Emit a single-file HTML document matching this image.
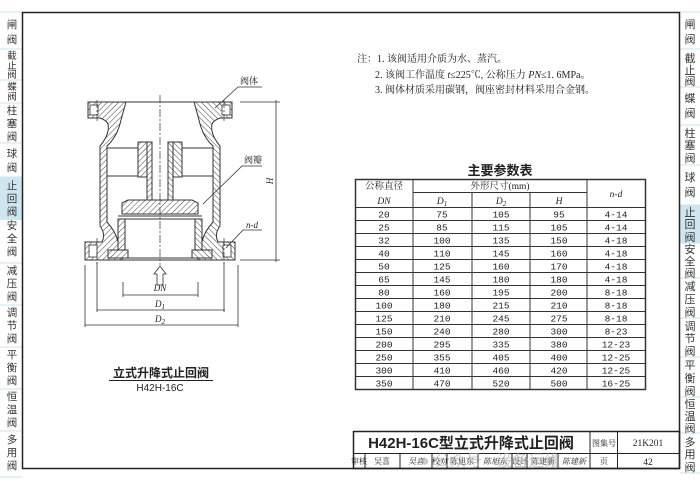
<!DOCTYPE html>
<html><head><meta charset="utf-8"><style>
html,body{margin:0;padding:0;background:#fff;}
svg{display:block;font-family:"Liberation Serif","Noto Serif CJK SC","Noto Sans CJK SC",serif;}
.s{font-family:"Liberation Sans","Noto Sans CJK SC",sans-serif;}
</style></head><body>
<svg width="700" height="487" viewBox="0 0 700 487" xmlns="http://www.w3.org/2000/svg">
<defs>
<pattern id="h" width="4" height="4" patternUnits="userSpaceOnUse" patternTransform="rotate(45)">
<rect width="4" height="4" fill="#fff"/><line x1="0" y1="0" x2="0" y2="4" stroke="#444" stroke-width="1"/>
</pattern>
</defs>
<rect width="700" height="487" fill="#fff"/>
<rect x="680" y="205" width="20" height="38" fill="#cfe6f0"/>
<rect x="0" y="177" width="22" height="43" fill="#cfe6f0"/>
<g stroke="#cde3ec" stroke-width="1">
<line x1="680" y1="12" x2="700" y2="12"/><line x1="680" y1="49" x2="700" y2="49"/><line x1="680" y1="87" x2="700" y2="87"/><line x1="680" y1="125" x2="700" y2="125"/><line x1="680" y1="165" x2="700" y2="165"/><line x1="680" y1="205" x2="700" y2="205"/><line x1="680" y1="243" x2="700" y2="243"/><line x1="680" y1="278" x2="700" y2="278"/><line x1="680" y1="318" x2="700" y2="318"/><line x1="680" y1="357" x2="700" y2="357"/><line x1="680" y1="397" x2="700" y2="397"/><line x1="680" y1="433" x2="700" y2="433"/><line x1="680" y1="473" x2="700" y2="473"/>
<line x1="0" y1="12" x2="22" y2="12"/><line x1="0" y1="49" x2="22" y2="49"/><line x1="0" y1="80" x2="22" y2="80"/><line x1="0" y1="103" x2="22" y2="103"/><line x1="0" y1="143" x2="22" y2="143"/><line x1="0" y1="177" x2="22" y2="177"/><line x1="0" y1="263" x2="22" y2="263"/><line x1="0" y1="305" x2="22" y2="305"/><line x1="0" y1="347" x2="22" y2="347"/><line x1="0" y1="389" x2="22" y2="389"/><line x1="0" y1="431" x2="22" y2="431"/><line x1="0" y1="477" x2="22" y2="477"/>
</g>
<g class="s" font-size="11" fill="#333" text-anchor="middle">
<text x="690" y="28">闸</text><text x="690" y="43">阀</text>
<text x="690" y="62">截</text><text x="690" y="74">止</text><text x="690" y="85">阀</text>
<text x="690" y="102">蝶</text><text x="690" y="117">阀</text>
<text x="690" y="137">柱</text><text x="690" y="149">塞</text><text x="690" y="162">阀</text>
<text x="690" y="181">球</text><text x="690" y="196">阀</text>
<text x="690" y="216">止</text><text x="690" y="228">回</text><text x="690" y="241">阀</text>
<text x="690" y="253">安</text><text x="690" y="265">全</text><text x="690" y="277">阀</text>
<text x="690" y="290">减</text><text x="690" y="303">压</text><text x="690" y="316">阀</text>
<text x="690" y="330">调</text><text x="690" y="342">节</text><text x="690" y="355">阀</text>
<text x="690" y="369">平</text><text x="690" y="382">衡</text><text x="690" y="395">阀</text>
<text x="690" y="408">恒</text><text x="690" y="420">温</text><text x="690" y="432">阀</text>
<text x="690" y="446">多</text><text x="690" y="458">用</text><text x="690" y="471">阀</text>
</g>
<g class="s" font-size="10.5" fill="#333" text-anchor="middle">
<text x="12" y="28">闸</text><text x="12" y="43">阀</text>
<text x="12" y="59" font-size="9.5">截</text><text x="12" y="69" font-size="9.5">止</text><text x="12" y="78" font-size="9.5">阀</text>
<text x="12" y="90" font-size="9.5">蝶</text><text x="12" y="100" font-size="9.5">阀</text>
<text x="12" y="114">柱</text><text x="12" y="127">塞</text><text x="12" y="140">阀</text>
<text x="12" y="157">球</text><text x="12" y="171">阀</text>
<text x="12" y="189">止</text><text x="12" y="202">回</text><text x="12" y="215">阀</text>
<text x="12" y="229">安</text><text x="12" y="242">全</text><text x="12" y="255">阀</text>
<text x="12" y="274">减</text><text x="12" y="287">压</text><text x="12" y="300">阀</text>
<text x="12" y="316">调</text><text x="12" y="329">节</text><text x="12" y="342">阀</text>
<text x="12" y="358">平</text><text x="12" y="371">衡</text><text x="12" y="384">阀</text>
<text x="12" y="400">恒</text><text x="12" y="413">温</text><text x="12" y="426">阀</text>
<text x="12" y="443">多</text><text x="12" y="456">用</text><text x="12" y="469">阀</text>
</g>
<rect x="22.5" y="12.5" width="657" height="456" fill="none" stroke="#222" stroke-width="1.5"/>
<g font-size="10" fill="#222">
<text x="357" y="62">注：1. 该阀适用介质为水、蒸汽。</text>
<text x="375" y="78">2. 该阀工作温度 <tspan font-style="italic">t</tspan>≤225℃, 公称压力 <tspan font-style="italic">PN</tspan>≤1. 6MPa。</text>
<text x="375" y="93">3. 阀体材质采用碳钢，阀座密封材料采用合金钢。</text>
</g>
<text x="500" y="175" class="s" font-size="13" font-weight="bold" text-anchor="middle" fill="#222">主要参数表</text>
<g stroke="#333" stroke-width="1" fill="none">
<rect x="355.5" y="179.5" width="290" height="210" stroke-width="1.5"/>
<line x1="413" y1="179" x2="413" y2="389"/>
<line x1="587" y1="179" x2="587" y2="389"/>
<line x1="472" y1="192" x2="472" y2="389"/>
<line x1="530" y1="192" x2="530" y2="389"/>
<line x1="413" y1="192.5" x2="587" y2="192.5"/>
<line x1="355" y1="207.5" x2="645" y2="207.5"/>
<line x1="355" y1="220.5" x2="645" y2="220.5"/>
<line x1="355" y1="233.5" x2="645" y2="233.5"/>
<line x1="355" y1="246.5" x2="645" y2="246.5"/>
<line x1="355" y1="259.5" x2="645" y2="259.5"/>
<line x1="355" y1="272.5" x2="645" y2="272.5"/>
<line x1="355" y1="285.5" x2="645" y2="285.5"/>
<line x1="355" y1="298.5" x2="645" y2="298.5"/>
<line x1="355" y1="311.5" x2="645" y2="311.5"/>
<line x1="355" y1="324.5" x2="645" y2="324.5"/>
<line x1="355" y1="337.5" x2="645" y2="337.5"/>
<line x1="355" y1="350.5" x2="645" y2="350.5"/>
<line x1="355" y1="363.5" x2="645" y2="363.5"/>
<line x1="355" y1="376.5" x2="645" y2="376.5"/>
</g>
<g font-size="9.5" fill="#222" text-anchor="middle">
<text x="384" y="189">公称直径</text>
<text x="384" y="204" font-style="italic">DN</text>
<text x="500" y="189">外形尺寸(mm)</text>
<text x="442" y="204" font-style="italic">D<tspan font-size="7" dy="2">1</tspan></text>
<text x="501" y="204" font-style="italic">D<tspan font-size="7" dy="2">2</tspan></text>
<text x="559" y="204" font-style="italic">H</text>
<text x="616" y="197" font-style="italic">n-d</text>
</g>
<g font-size="9.5" fill="#222" text-anchor="middle" font-family="Liberation Mono, monospace">
<g transform="translate(0,217.5)"><text x="384">20</text><text x="442">75</text><text x="501">105</text><text x="559">95</text><text x="616">4-14</text></g>
<g transform="translate(0,230.5)"><text x="384">25</text><text x="442">85</text><text x="501">115</text><text x="559">105</text><text x="616">4-14</text></g>
<g transform="translate(0,243.5)"><text x="384">32</text><text x="442">100</text><text x="501">135</text><text x="559">150</text><text x="616">4-18</text></g>
<g transform="translate(0,256.5)"><text x="384">40</text><text x="442">110</text><text x="501">145</text><text x="559">160</text><text x="616">4-18</text></g>
<g transform="translate(0,269.5)"><text x="384">50</text><text x="442">125</text><text x="501">160</text><text x="559">170</text><text x="616">4-18</text></g>
<g transform="translate(0,282.5)"><text x="384">65</text><text x="442">145</text><text x="501">180</text><text x="559">180</text><text x="616">4-18</text></g>
<g transform="translate(0,295.5)"><text x="384">80</text><text x="442">160</text><text x="501">195</text><text x="559">200</text><text x="616">8-18</text></g>
<g transform="translate(0,308.5)"><text x="384">100</text><text x="442">180</text><text x="501">215</text><text x="559">210</text><text x="616">8-18</text></g>
<g transform="translate(0,321.5)"><text x="384">125</text><text x="442">210</text><text x="501">245</text><text x="559">275</text><text x="616">8-18</text></g>
<g transform="translate(0,334.5)"><text x="384">150</text><text x="442">240</text><text x="501">280</text><text x="559">300</text><text x="616">8-23</text></g>
<g transform="translate(0,347.5)"><text x="384">200</text><text x="442">295</text><text x="501">335</text><text x="559">380</text><text x="616">12-23</text></g>
<g transform="translate(0,360.5)"><text x="384">250</text><text x="442">355</text><text x="501">405</text><text x="559">400</text><text x="616">12-25</text></g>
<g transform="translate(0,373.5)"><text x="384">300</text><text x="442">410</text><text x="501">460</text><text x="559">420</text><text x="616">12-25</text></g>
<g transform="translate(0,386.5)"><text x="384">350</text><text x="442">470</text><text x="501">520</text><text x="559">500</text><text x="616">16-25</text></g>
</g>
<g stroke="#222" fill="none">
<rect x="353.5" y="431.5" width="326" height="37" stroke-width="1.5"/>
<line x1="353" y1="453.5" x2="680" y2="453.5"/>
<line x1="590" y1="431" x2="590" y2="468"/>
<line x1="617.5" y1="431" x2="617.5" y2="468"/>
<line x1="365" y1="453" x2="365" y2="468"/><line x1="400" y1="453" x2="400" y2="468"/><line x1="432" y1="453" x2="432" y2="468"/><line x1="447" y1="453" x2="447" y2="468"/><line x1="478" y1="453" x2="478" y2="468"/><line x1="512" y1="453" x2="512" y2="468"/><line x1="527" y1="453" x2="527" y2="468"/><line x1="558" y1="453" x2="558" y2="468"/>
</g>
<text x="471" y="448" class="s" font-size="15" font-weight="bold" text-anchor="middle" fill="#222">H42H-16C型立式升降式止回阀</text>
<g font-size="8" fill="#222" text-anchor="middle">
<text x="604" y="446">图集号</text>
<text x="648" y="446" font-size="9.5">21K201</text>
<text x="359" y="464">审核</text><text x="382" y="464">吴喜</text><text x="416" y="464" font-style="italic">吴喜</text>
<text x="440" y="464">校对</text><text x="462" y="464">陈旭东</text><text x="495" y="464" font-style="italic">陈旭东</text>
<text x="520" y="464">设计</text><text x="543" y="464">陈建新</text><text x="574" y="464" font-style="italic">陈建新</text>
<text x="604" y="464">页</text><text x="648" y="465" font-size="9.5">42</text>
</g>
<text x="420" y="466" class="s" font-size="16" fill="#aaa" opacity="0.6">● 公众号 · 设备运维</text>
<g stroke="#333" stroke-width="1">
<g id="half">
<path d="M88,102 H126 Q122,116 120,124 Q116,138 107,146 V222 Q116,232 118,242 H122 V260 H85 V242 H102 Q106,234 100,226 V146 Q110,134 108,124 Q106,120 100,118 H88 Z" fill="url(#h)"/>
<rect x="118" y="219" width="7" height="31" fill="url(#h)"/>
<rect x="108" y="250" width="20" height="8" fill="url(#h)"/>
<rect x="138" y="142" width="9" height="35" fill="url(#h)"/>
<rect x="147" y="142" width="5" height="60" fill="url(#h)"/>
<line x1="107" y1="148" x2="138" y2="148"/>
<line x1="107" y1="176" x2="138" y2="176"/>
<rect x="90" y="105" width="8" height="10" fill="#fff" stroke-width="0.8"/>
<rect x="89" y="245" width="8" height="12" fill="#fff" stroke-width="0.8"/>
</g>
<use href="#half" transform="translate(320,0) scale(-1,1)"/>
<line x1="126" y1="102" x2="194" y2="102"/>
<line x1="122" y1="260" x2="198" y2="260"/>
<path d="M122 203 L128 200 H192 L198 203 V214 H122 Z" fill="url(#h)"/>
<line x1="118" y1="216" x2="202" y2="216"/>
<line x1="118" y1="219" x2="202" y2="219"/>
<line x1="128" y1="258" x2="192" y2="258"/>
</g>
<g stroke="#333" stroke-width="0.7" stroke-dasharray="8,2,2,2" fill="none">
<line x1="160" y1="95" x2="160" y2="265"/>
<line x1="97" y1="100" x2="97" y2="121"/><line x1="224" y1="100" x2="224" y2="121"/>
<line x1="97" y1="238" x2="97" y2="265"/><line x1="224" y1="238" x2="224" y2="265"/>
</g>
<g stroke="#333" stroke-width="0.8" fill="none">
<path d="M157 285 V274 H154 L160 266 L166 274 H163 V285 Z"/>
<line x1="97" y1="262" x2="97" y2="312"/><line x1="224" y1="262" x2="224" y2="312"/>
<line x1="123" y1="282" x2="123" y2="297"/><line x1="198" y1="282" x2="198" y2="297"/>
<line x1="85" y1="265" x2="85" y2="327"/><line x1="238" y1="265" x2="238" y2="327"/>
<line x1="123" y1="295" x2="198" y2="295"/>
<line x1="97" y1="310" x2="225" y2="310"/>
<line x1="85" y1="325" x2="238" y2="325"/>
<line x1="240" y1="102" x2="280" y2="102"/><line x1="240" y1="260" x2="280" y2="260"/>
<line x1="276" y1="100" x2="276" y2="262"/>
<polyline points="215,108 238,87 262,87"/>
<polyline points="203,204 242,166 262,166"/>
<polyline points="226,248 243,230 262,230"/>
</g>
<g font-size="9" fill="#222" font-style="italic" text-anchor="middle">
<text x="160" y="291">DN</text>
<text x="160" y="307">D<tspan font-size="7" dy="2">1</tspan></text>
<text x="160" y="322">D<tspan font-size="7" dy="2">2</tspan></text>
<text x="270" y="184" transform="rotate(-90 270 181)">H</text>
<text x="252" y="228">n-d</text>
</g>
<g font-size="9" fill="#222">
<text x="240" y="84">阀体</text>
<text x="244" y="163">阀瓣</text>
</g>
<text x="161" y="377" class="s" font-size="12" font-weight="bold" text-anchor="middle" fill="#222">立式升降式止回阀</text>
<line x1="109" y1="380.5" x2="213" y2="380.5" stroke="#222" stroke-width="1"/>
<text x="160" y="391" class="s" font-size="10" text-anchor="middle" fill="#222">H42H-16C</text>
</svg>
</body></html>
